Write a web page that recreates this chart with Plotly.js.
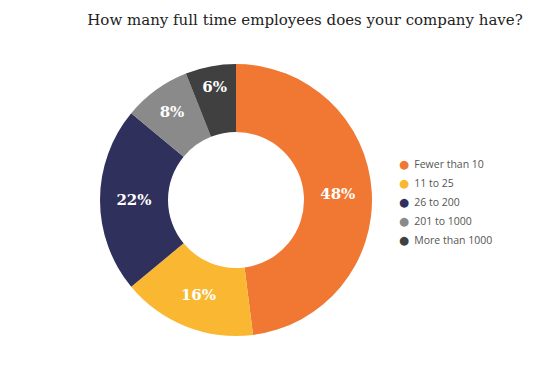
<!DOCTYPE html>
<html><head><meta charset="utf-8">
<script src="https://cdn.plot.ly/plotly-3.0.1.min.js"></script>
<style>html,body{margin:0;padding:0;background:#fff}#chart{width:547px;height:370px}</style>
</head><body><div id="chart"></div>
<script>
const categories = ["Fewer than 10", "11 to 25", "26 to 200", "201 to 1000", "More than 1000"];
const shares = [48, 16, 22, 8, 6];
const colors = ["#F07833", "#FAB832", "#30305C", "#8A8A8A", "#404040"];
const titleText = "How many full time employees does your company have?";

const pie = {
  type: "pie",
  labels: categories,
  values: shares,
  hole: 0.5,
  sort: false,
  direction: "clockwise",
  rotation: 0,
  marker: {colors: colors, line: {width: 0}},
  textinfo: "percent",
  texttemplate: "%{percent:.0%}",
  textposition: "inside",
  insidetextorientation: "horizontal",
  textfont: {family: "DejaVu Serif", size: 15, color: "#ffffff", weight: "bold"},
  hoverinfo: "label+percent",
  showlegend: false,
  domain: {x: [100/547, 372/547], y: [34/370, 306/370]}
};

const legendTraces = categories.map((c, i) => ({
  type: "scatter", mode: "markers", x: [null], y: [null],
  name: `<span style="color:${colors[i]};font-family:'DejaVu Sans';font-size:11.5px">●</span>\u2002${c}`,
  marker: {color: "rgba(0,0,0,0)", size: 0},
  showlegend: true, hoverinfo: "skip"
}));

const layout = {
  width: 547, height: 370,
  margin: {l: 0, r: 0, t: 0, b: 0},
  paper_bgcolor: "#fff", plot_bgcolor: "#fff",
  title: {text: titleText, x: 305/547, xanchor: "center", y: 1 - 20/370, yanchor: "middle",
          font: {family: "DejaVu Serif", size: 15, color: "#222"}},
  xaxis: {visible: false}, yaxis: {visible: false},
  showlegend: true,
  legend: {x: 359/547, xanchor: "left", y: 1 - 149/370, yanchor: "top",
           font: {family: "Open Sans", size: 10.5, color: "#555555"},
           itemwidth: 30, tracegroupgap: 0, bgcolor: "rgba(0,0,0,0)"}
};

Plotly.newPlot("chart", [pie, ...legendTraces], layout, {displayModeBar: false, responsive: false});
</script></body></html>
